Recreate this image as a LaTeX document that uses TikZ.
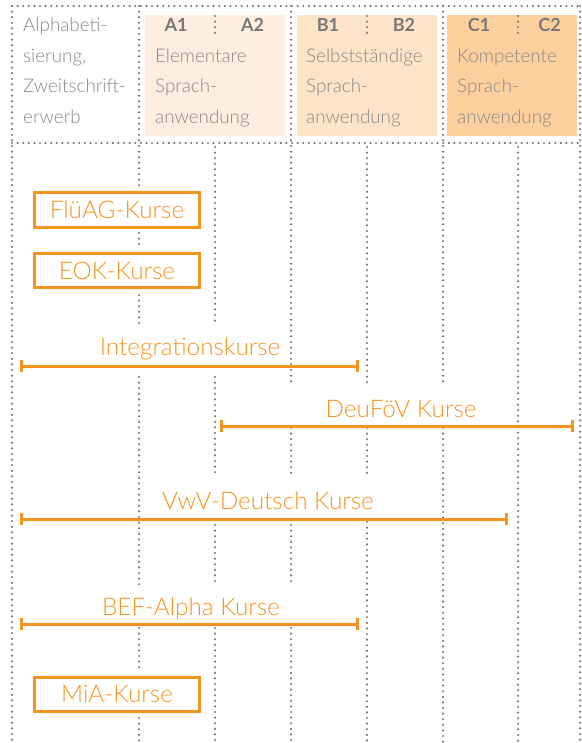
\documentclass[tikz,border=0pt]{standalone}
\usepackage{fontspec}
\setmainfont{Lato}[UprightFont={* Light},BoldFont={* Bold}]
\usetikzlibrary{arrows.meta}
\definecolor{dotgray}{RGB}{120,120,120}
\definecolor{hdrgray}{RGB}{135,135,135}
\definecolor{boldgray}{RGB}{120,120,120}
\definecolor{kursorange}{RGB}{247,148,29}
\definecolor{fillA}{RGB}{253,238,223}
\definecolor{fillB}{RGB}{254,228,198}
\definecolor{fillC}{RGB}{252,208,157}
\tikzset{
  dotline/.style={draw=dotgray, line width=2.4pt, line cap=round, dash pattern=on 0pt off 5.6pt},
  hdrtext/.style={anchor=base west, inner sep=0pt, text=hdrgray, font=\fontsize{18.8}{21}\selectfont},
  lvltext/.style={anchor=base, inner sep=0pt, text=boldgray, font=\bfseries\fontsize{18}{20}\selectfont},
  kursbox/.style={draw=kursorange, line width=3pt, minimum width=165pt, minimum height=34pt, inner sep=0pt, text=kursorange, font=\fontsize{24.3}{27}\selectfont},
  kurslabel/.style={anchor=base, inner sep=0pt, text=kursorange, font=\fontsize{24.3}{27}\selectfont},
  rangebar/.style={draw=kursorange, line width=3pt, {Bar[width=12pt,line width=3pt]}-{Bar[width=12pt,line width=3pt]}}
}
\begin{document}
\begin{tikzpicture}[x=1pt,y=-1pt]
\useasboundingbox (0,0) rectangle (581,743);
% header fills
\fill[fillA] (145,15) rectangle (285,136);
\fill[fillB] (297,15) rectangle (437,136);
\fill[fillC] (447,15) rectangle (577,136);
% outer frame and header lines
\draw[dotline] (12,6) -- (580,6);
\draw[dotline] (12,143) -- (580,143);
\draw[dotline] (12,6) -- (12,743);
\draw[dotline] (580,6) -- (580,743);
% header sub-separators
\draw[dotline] (215,16) -- (215,36);
\draw[dotline] (367,16) -- (367,36);
\draw[dotline] (518,16) -- (518,36);
% column lines x=139
\draw[dotline] (139,6) -- (139,187);
\draw[dotline] (139,233) -- (139,245);
\draw[dotline] (139,295) -- (139,323);
\draw[dotline] (139,377) -- (139,585);
\draw[dotline] (139,628) -- (139,670);
\draw[dotline] (139,718) -- (139,743);
% x=215
\draw[dotline] (215,147) -- (215,323);
\draw[dotline] (215,377) -- (215,473);
\draw[dotline] (215,525) -- (215,585);
\draw[dotline] (215,628) -- (215,743);
% x=291
\draw[dotline] (291,6) -- (291,385);
\draw[dotline] (291,428) -- (291,473);
\draw[dotline] (291,525) -- (291,585);
\draw[dotline] (291,628) -- (291,743);
% x=367
\draw[dotline] (367,147) -- (367,385);
\draw[dotline] (367,428) -- (367,473);
\draw[dotline] (367,522) -- (367,743);
% x=443
\draw[dotline] (443,6) -- (443,385);
\draw[dotline] (443,428) -- (443,743);
% x=518
\draw[dotline] (518,147) -- (518,743);
% header texts
\node[hdrtext] (h1) at (23,32) {Alphabeti-};
\node[hdrtext] (h2) at (23,63) {sierung,};
\node[hdrtext] (h3) at (23,93) {Zweitschrift-};
\node[hdrtext] (h4) at (23,124) {erwerb};
\node[lvltext] (a1) at (176,32) {A1};
\node[lvltext] (a2) at (252.5,32) {A2};
\node[lvltext] (b1) at (328,32) {B1};
\node[lvltext] (b2) at (404,32) {B2};
\node[lvltext] (c1) at (479,32) {C1};
\node[lvltext] (c2) at (549.5,32) {C2};
\node[hdrtext] (ta1) at (155,63) {Elementare};
\node[hdrtext] (ta2) at (155,93) {Sprach-};
\node[hdrtext] (ta3) at (155,124) {anwendung};
\node[hdrtext] (tb1) at (306,63) {Selbstständige};
\node[hdrtext] (tb2) at (306,93) {Sprach-};
\node[hdrtext] (tb3) at (306,124) {anwendung};
\node[hdrtext] (tc1) at (457,63) {Kompetente};
\node[hdrtext] (tc2) at (457,93) {Sprach-};
\node[hdrtext] (tc3) at (457,124) {anwendung};
% boxes
\node[kursbox] (flueag) at (117,210) {FlüAG-Kurse};
\node[kursbox] (eok) at (117,270.5) {EOK-Kurse};
\node[kursbox] (mia) at (117,694) {MiA-Kurse};
% range bars
\coordinate (intL) at (20,366); \coordinate (intR) at (359,366);
\draw[rangebar] (intL) -- (intR);
\node[kurslabel] (int) at (190,355) {Integrationskurse};
\coordinate (deuL) at (220,426); \coordinate (deuR) at (574,426);
\draw[rangebar] (deuL) -- (deuR);
\node[kurslabel] (deu) at (401,417) {DeuFöV Kurse};
\coordinate (vwvL) at (20,519); \coordinate (vwvR) at (508,519);
\draw[rangebar] (vwvL) -- (vwvR);
\node[kurslabel] (vwv) at (268,509) {VwV-Deutsch Kurse};
\coordinate (befL) at (20,624); \coordinate (befR) at (359,624);
\draw[rangebar] (befL) -- (befR);
\node[kurslabel] (bef) at (191,615) {BEF-Alpha Kurse};
\end{tikzpicture}
\end{document}
